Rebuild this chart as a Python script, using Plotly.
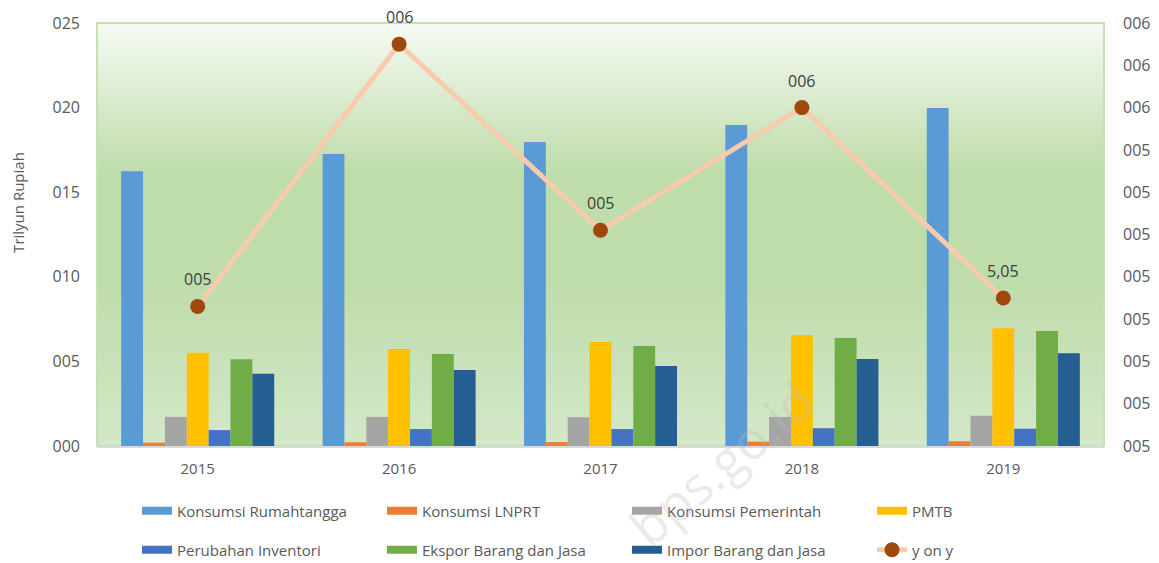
import plotly.graph_objects as go

years = ["2015", "2016", "2017", "2018", "2019"]
konsumsi_rt = [16.24, 17.26, 17.97, 18.97, 19.98]
konsumsi_lnprt = [0.20, 0.22, 0.23, 0.26, 0.28]
konsumsi_pemerintah = [1.72, 1.72, 1.70, 1.72, 1.79]
pmtb = [5.51, 5.73, 6.15, 6.56, 6.96]
inventori = [0.94, 1.00, 1.00, 1.05, 1.02]
ekspor = [5.12, 5.44, 5.91, 6.38, 6.80]
impor = [4.27, 4.49, 4.73, 5.14, 5.48]
yoy = [5.03, 5.65, 5.21, 5.50, 5.05]
yoy_labels = ["005", "006", "005", "006", "5,05"]

left_tickvals = [0, 5, 10, 15, 20, 25]
left_ticktext = ["000", "005", "010", "015", "020", "025"]
right_tickvals = [4.7, 4.8, 4.9, 5.0, 5.1, 5.2, 5.3, 5.4, 5.5, 5.6, 5.7]
right_ticktext = ["005", "005", "005", "005", "005", "005", "005", "005", "006", "006", "006"]

bar_series = [
    ("Konsumsi Rumahtangga", konsumsi_rt, "#5B9BD5", "legend"),
    ("Konsumsi LNPRT", konsumsi_lnprt, "#ED7D31", "legend"),
    ("Konsumsi Pemerintah", konsumsi_pemerintah, "#A5A5A5", "legend"),
    ("PMTB", pmtb, "#FFC000", "legend"),
    ("Perubahan Inventori", inventori, "#4472C4", "legend2"),
    ("Ekspor Barang dan Jasa", ekspor, "#70AD47", "legend2"),
    ("Impor Barang dan Jasa", impor, "#255E91", "legend2"),
]

FONT = "Open Sans"
TXT = "#595959"
W, H = 1159, 563

fig = go.Figure()
for name, vals, color, lg in bar_series:
    fig.add_trace(go.Bar(x=years, y=vals, name=name, marker=dict(color=color, line=dict(width=0)),
                         showlegend=False, yaxis="y", xaxis="x"))

fig.add_trace(go.Scatter(x=years, y=yoy, yaxis="y2", xaxis="x", mode="lines+markers", name="y on y",
                         line=dict(color="#F8CBAD", width=5),
                         marker=dict(color="#9E480E", size=15), showlegend=False))

# legend swatches (legend entries only, no marks)
for name, vals, color, lg in bar_series:
    fig.add_trace(go.Scatter(x=[years[0]], y=[None], mode="lines", name=name, xaxis="x", yaxis="y",
                             line=dict(color=color, width=8), legend=lg, showlegend=True,
                             hoverinfo="skip"))
fig.add_trace(go.Scatter(x=[years[0]], y=[None], mode="lines+markers", name="y on y", xaxis="x", yaxis="y",
                         line=dict(color="#F8CBAD", width=5),
                         marker=dict(color="#9E480E", size=15), legend="legend2", showlegend=True,
                         hoverinfo="skip"))

for i, (v, lab) in enumerate(zip(yoy, yoy_labels)):
    fig.add_annotation(x=i, y=v, xref="x", yref="y2", text=lab, showarrow=False, yshift=27,
                       font=dict(family=FONT, size=16, color="#404040"))

# gradient background of plot area
stops = [(0.0, (246, 250, 243)), (0.35, (191, 220, 171)), (0.62, (191, 220, 171)), (1.0, (211, 232, 200))]
n = 60
def col_at(t):
    for k in range(len(stops) - 1):
        t0, c0 = stops[k]
        t1, c1 = stops[k + 1]
        if t0 <= t <= t1:
            f = (t - t0) / (t1 - t0)
            return tuple(round(c0[j] + (c1[j] - c0[j]) * f) for j in range(3))
    return stops[-1][1]
shapes = []
for k in range(n):
    t = (k + 0.5) / n
    c = col_at(t)
    shapes.append(dict(type="rect", xref="paper", yref="paper", x0=0, x1=1,
                       y1=1 - k / n, y0=max(0, 1 - (k + 1) / n - 0.002),
                       fillcolor="rgb(%d,%d,%d)" % c, line=dict(width=0), layer="below"))
shapes.append(dict(type="rect", xref="paper", yref="paper", x0=0, x1=1, y0=0, y1=1,
                   line=dict(color="#C5E0B4", width=2), fillcolor="rgba(0,0,0,0)", layer="below"))

fig.add_annotation(text="Trilyun Rupiah", textangle=-90, xref="paper", yref="paper",
                   x=-0.0785, y=0.577, xanchor="center", yanchor="middle", showarrow=False,
                   font=dict(family=FONT, size=15, color=TXT))
fig.add_annotation(text="bps.go.id", textangle=-40, xref="paper", yref="paper",
                   x=0.62, y=-0.04, xanchor="center", yanchor="middle", showarrow=False,
                   font=dict(family=FONT, size=52, color="rgba(185,185,185,0.3)"))

fig.update_layout(
    width=W, height=H,
    margin=dict(l=97, r=55, t=23, b=117, autoexpand=False),
    paper_bgcolor="white", plot_bgcolor="rgba(0,0,0,0)",
    barmode="group", bargap=0.24, bargroupgap=0,
    font=dict(family=FONT, size=15, color=TXT),
    shapes=shapes,
    xaxis=dict(type="category", categoryorder="array", categoryarray=years, range=[-0.5, 4.5],
               showline=True, linecolor="#D9D9D9", linewidth=2, automargin=False,
               showgrid=False, ticks="", ticklabelstandoff=8, tickfont=dict(size=15, color=TXT)),
    yaxis=dict(range=[0, 25], tickvals=left_tickvals, ticktext=left_ticktext, showgrid=False,
               automargin=False,
               zeroline=False, ticks="", ticklabelstandoff=16, tickfont=dict(size=16, color=TXT)),
    yaxis2=dict(range=[4.7, 5.7], tickvals=right_tickvals, ticktext=right_ticktext, overlaying="y",
                side="right", showgrid=False, zeroline=False, ticks="", ticklabelstandoff=18,
                automargin=False, tickfont=dict(size=16, color=TXT)),
    legend=dict(orientation="h", xref="container", yref="container", x=137 / W, y=1 - 511 / H,
                yanchor="middle", xanchor="left", entrywidth=200, entrywidthmode="pixels",
                font=dict(size=15, color=TXT), bgcolor="rgba(0,0,0,0)"),
    legend2=dict(orientation="h", xref="container", yref="container", x=137 / W, y=1 - 550 / H,
                 yanchor="middle", xanchor="left", entrywidth=200, entrywidthmode="pixels",
                 font=dict(size=15, color=TXT), bgcolor="rgba(0,0,0,0)"),
)

fig.write_html("out.html", config={"displayModeBar": False},
               post_script="document.body.style.margin='0';document.body.style.overflow='hidden';")
